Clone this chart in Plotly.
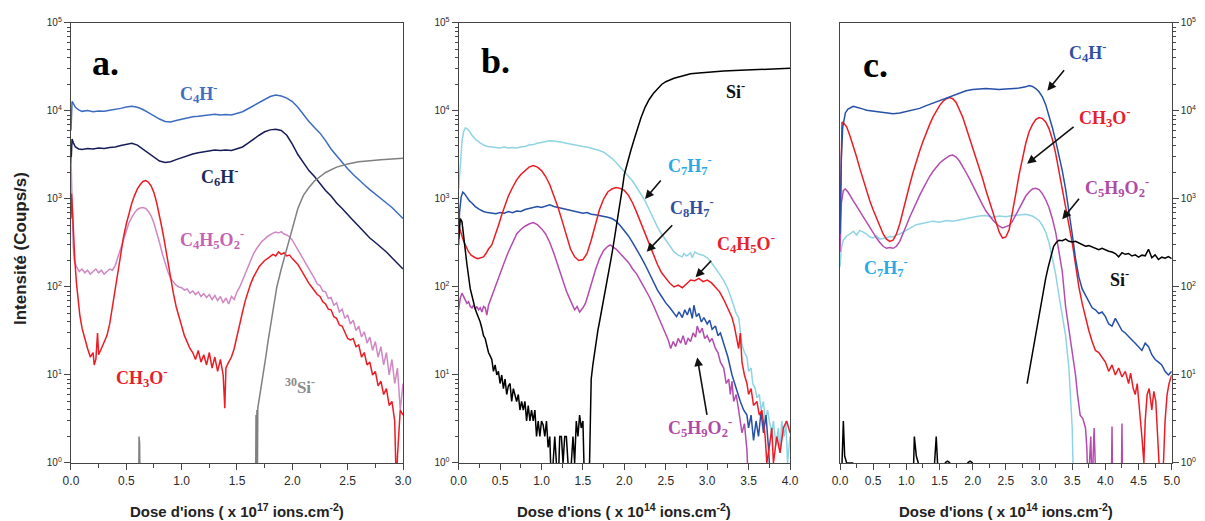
import plotly.graph_objects as go

# ======================= DATA =======================
# ---- panel a : dose x 1e17 ions/cm2 ----
a_x_smooth = [0.0, 0.01, 0.02, 0.04, 0.07, 0.1, 0.15, 0.2, 0.25, 0.3, 0.35, 0.4, 0.45, 0.5, 0.55, 0.6,
              0.65, 0.7, 0.75, 0.8, 0.85, 0.9, 0.95, 1.0, 1.05, 1.1, 1.15, 1.2, 1.25, 1.3, 1.35, 1.4,
              1.45, 1.5, 1.55, 1.6, 1.65, 1.7, 1.75, 1.8, 1.85, 1.9, 1.95, 2.0, 2.05, 2.1, 2.15, 2.2,
              2.25, 2.3, 2.35, 2.4, 2.45, 2.5, 2.55, 2.6, 2.65, 2.7, 2.75, 2.8, 2.85, 2.9, 2.95, 3.0]
a_C4H = [6000, 12800, 12300, 11000, 10300, 9900, 10100, 9800, 10000, 9900, 10200, 10400, 10700, 11100,
         11300, 11000, 10400, 9600, 8800, 8100, 7600, 7500, 7800, 8100, 8300, 8600, 8700, 8900, 9100,
         9200, 9000, 9100, 9000, 9300, 9800, 10600, 11500, 12600, 13600, 14600, 15200, 14800, 14000,
         12800, 11000, 9000, 7600, 6500, 5600, 4600, 3700, 3100, 2600, 2200, 1900, 1650, 1450, 1280,
         1130, 1000, 900, 800, 700, 600]
a_C6H = [2500, 4800, 4400, 3900, 3700, 3650, 3750, 3700, 3800, 3750, 3850, 3900, 4050, 4200, 4300, 4100,
         3700, 3300, 2950, 2700, 2600, 2650, 2800, 2950, 3100, 3250, 3350, 3450, 3500, 3600, 3550, 3600,
         3550, 3700, 3900, 4300, 4800, 5300, 5800, 6100, 6200, 6000, 5300, 4200, 3200, 2600, 2100, 1800,
         1500, 1250, 1080, 900, 780, 660, 570, 490, 420, 360, 320, 285, 250, 215, 185, 160]

a_C4H5O2_x = [0.0, 0.005, 0.01, 0.02, 0.03, 0.04, 0.05, 0.075, 0.1, 0.125, 0.15, 0.175, 0.2, 0.225, 0.25,
              0.275, 0.3, 0.325, 0.35, 0.375, 0.4, 0.425, 0.45, 0.475, 0.5, 0.525, 0.55, 0.575, 0.6, 0.625,
              0.65, 0.675, 0.7, 0.725, 0.75, 0.775, 0.8, 0.825, 0.85, 0.875, 0.9, 0.925, 0.95, 0.975, 1.0,
              1.025, 1.05, 1.075, 1.1, 1.125, 1.15, 1.175, 1.2, 1.225, 1.25, 1.275, 1.3, 1.325, 1.35, 1.375,
              1.4, 1.425, 1.45, 1.475, 1.5, 1.525, 1.55, 1.575, 1.6, 1.625, 1.65, 1.675, 1.7, 1.725, 1.75,
              1.775, 1.8, 1.825, 1.85, 1.875, 1.9, 1.925, 1.95, 1.975, 2.0, 2.025, 2.05, 2.075, 2.1, 2.125,
              2.15, 2.175, 2.2, 2.225, 2.25, 2.275, 2.3, 2.325, 2.35, 2.375, 2.4, 2.425, 2.45, 2.475, 2.5,
              2.525, 2.55, 2.575, 2.6, 2.625, 2.65, 2.675, 2.7, 2.725, 2.75, 2.775, 2.8, 2.825, 2.85, 2.875,
              2.9, 2.925, 2.95, 2.975, 3.0]
a_C4H5O2 = [3000, 1500, 600, 300, 200, 185, 170, 150, 160, 145, 155, 140, 150, 160, 145, 155, 140, 150,
            160, 155, 175, 220, 280, 350, 450, 540, 620, 700, 760, 790, 800, 780, 720, 640, 530, 420, 320,
            240, 185, 150, 125, 115, 105, 100, 98, 92, 95, 85, 90, 82, 88, 78, 84, 76, 82, 72, 80, 70, 78,
            66, 75, 64, 78, 72, 88, 100, 120, 145, 175, 205, 240, 270, 300, 330, 350, 375, 390, 410, 420,
            410, 425, 400, 390, 370, 340, 300, 265, 240, 210, 180, 160, 140, 125, 108, 104, 90, 88, 74, 76,
            62, 66, 52, 56, 44, 48, 38, 42, 32, 36, 27, 31, 23, 27, 19, 24, 16, 21, 13, 18, 10, 15, 8, 12,
            4, 8]

a_CH3O_x = [0.0, 0.005, 0.015, 0.025, 0.035, 0.05, 0.065, 0.08, 0.1, 0.125, 0.15, 0.175, 0.2, 0.21, 0.225,
            0.24, 0.25, 0.275, 0.3, 0.325, 0.35, 0.375, 0.4, 0.425, 0.45, 0.475, 0.5, 0.525, 0.55, 0.575,
            0.6, 0.625, 0.65, 0.675, 0.7, 0.725, 0.75, 0.775, 0.8, 0.825, 0.85, 0.875, 0.9, 0.925, 0.95,
            0.975, 1.0, 1.025, 1.05, 1.075, 1.1, 1.125, 1.15, 1.175, 1.2, 1.225, 1.25, 1.275, 1.3, 1.325,
            1.35, 1.375, 1.39, 1.4, 1.425, 1.45, 1.475, 1.5, 1.525, 1.55, 1.575, 1.6, 1.625, 1.65, 1.675,
            1.7, 1.725, 1.75, 1.775, 1.8, 1.825, 1.85, 1.875, 1.9, 1.925, 1.95, 1.975, 2.0, 2.025, 2.05,
            2.075, 2.1, 2.125, 2.15, 2.175, 2.2, 2.225, 2.25, 2.275, 2.3, 2.325, 2.35, 2.375, 2.4, 2.425,
            2.45, 2.475, 2.5, 2.525, 2.55, 2.575, 2.6, 2.625, 2.65, 2.675, 2.7, 2.725, 2.75, 2.775, 2.8,
            2.825, 2.85, 2.875, 2.9, 2.925, 2.94, 2.95, 2.975, 3.0]
a_CH3O = [600, 1150, 700, 330, 200, 110, 70, 48, 34, 25, 20, 16, 18, 13, 15, 30, 17, 20, 24, 28, 38, 60,
          100, 160, 250, 370, 520, 700, 900, 1100, 1300, 1450, 1580, 1620, 1550, 1400, 1180, 900, 650, 450,
          300, 190, 120, 85, 60, 45, 36, 28, 24, 20, 18, 15, 19, 14, 17, 13, 18, 12, 16, 11, 15, 10, 4.2,
          12, 14, 16, 20, 28, 38, 52, 70, 90, 110, 130, 150, 170, 185, 200, 210, 220, 235, 225, 250, 235,
          245, 225, 230, 210, 195, 180, 160, 140, 125, 110, 100, 90, 82, 78, 68, 64, 56, 55, 46, 44, 37,
          36, 30, 26, 25, 26, 21, 22, 16, 18, 13, 14, 10, 11, 7.5, 8.5, 6, 7, 4.5, 5, 3, 0.5, 1.2, 4, 3.5]

a_Si30_x = [0.6, 0.612, 0.615, 0.62, 0.625, None, 1.668, 1.672, 1.676, 1.68, 1.684, 1.688, 1.692, 1.7,
            1.72, 1.74, 1.76, 1.78, 1.8, 1.83, 1.86, 1.9, 1.95, 2.0, 2.05, 2.1, 2.15, 2.2, 2.3, 2.4, 2.5,
            2.6, 2.7, 2.8, 2.9, 3.0]
a_Si30 = [0.5, 0.5, 2.0, 1.7, 0.5, None, 0.5, 3.5, 0.5, 4, 0.5, 4.2, 4.5, 5.5, 8, 11, 16, 24, 35, 60, 100,
          160, 270, 470, 780, 1100, 1350, 1600, 2000, 2300, 2500, 2650, 2750, 2800, 2850, 2900]

# ---- panel b : dose x 1e14 ions/cm2 ----
b_Si_x = [0.0, 0.02, 0.04, 0.06, 0.08, 0.1, 0.12, 0.14, 0.16, 0.18, 0.2, 0.22, 0.24, 0.26, 0.28, 0.3,
          0.32, 0.34, 0.36, 0.38, 0.4, 0.42, 0.44, 0.46, 0.48, 0.5, 0.52, 0.54, 0.56, 0.58, 0.6, 0.62,
          0.64, 0.66, 0.68, 0.7, 0.72, 0.74, 0.76, 0.78, 0.8, 0.82, 0.84, 0.86, 0.88, 0.9, 0.92, 0.94,
          0.96, 0.98, 1.0, 1.02, 1.04, 1.06, 1.08, 1.1, 1.12, 1.14, 1.16, 1.18, 1.2, 1.22, 1.24, 1.26,
          1.28, 1.3, 1.32, 1.34, 1.36, 1.38, 1.4, 1.42, 1.44, 1.46, 1.48, 1.5, 1.52, 1.56, 1.58, 1.6,
          1.62, 1.64, 1.66, 1.68, 1.7, 1.72, 1.74, 1.76, 1.78, 1.8, 1.82, 1.84, 1.86, 1.88, 1.9, 1.92,
          1.94, 1.96, 1.98, 2.0, 2.04, 2.08, 2.12, 2.16, 2.2, 2.25, 2.3, 2.35, 2.4, 2.45, 2.5, 2.6, 2.7,
          2.8, 2.9, 3.0, 3.2, 3.4, 3.6, 3.8, 4.0]
b_Si = [350, 600, 550, 400, 260, 180, 125, 95, 80, 65, 56, 50, 45, 40, 34, 28, 26, 22, 18, 16.5, 15, 11,
        13, 10, 11, 8, 10, 7, 9, 6, 7.5, 8, 5, 7, 6, 5, 6, 4, 5, 4, 5, 3, 4.5, 3, 4, 3, 4, 2, 3, 2, 3, 2.7,
        2, 3, 1.5, 2, 0.5, 1, 2, 1, 0.5, 2, 2, 1, 2, 2, 1, 0.5, 1, 2, 1, 3, 2, 3.5, 2.5, 3, 0.5, 0.5, 1,
        9, 13, 18, 25, 32, 40, 50, 62, 78, 100, 130, 165, 210, 270, 350, 450, 600, 800, 1050, 1400, 1900,
        2700, 3600, 4800, 6400, 8300, 11000, 13500, 15800, 18000, 20000, 21500, 23500, 25000, 26500,
        27000, 27500, 28500, 29000, 29500, 29800, 30500]

b_C7H7_x = [0.0, 0.02, 0.04, 0.06, 0.08, 0.1, 0.13, 0.16, 0.2, 0.25, 0.3, 0.35, 0.4, 0.45, 0.5, 0.55, 0.6,
            0.65, 0.7, 0.75, 0.8, 0.85, 0.9, 0.95, 1.0, 1.05, 1.1, 1.15, 1.2, 1.25, 1.3, 1.35, 1.4, 1.45,
            1.5, 1.55, 1.6, 1.65, 1.7, 1.75, 1.8, 1.85, 1.9, 1.95, 2.0, 2.05, 2.1, 2.15, 2.2, 2.25, 2.3,
            2.35, 2.4, 2.45, 2.5, 2.55, 2.6, 2.65, 2.7, 2.72, 2.75, 2.8, 2.82, 2.85, 2.9, 2.95, 3.0, 3.05,
            3.1, 3.15, 3.2, 3.25, 3.3, 3.35, 3.38, 3.4, 3.42, 3.45, 3.48, 3.5, 3.53, 3.55, 3.58, 3.6, 3.63,
            3.65, 3.68, 3.7, 3.73, 3.75, 3.78, 3.8, 3.83, 3.86, 3.88, 3.9, 3.93, 3.95, 3.97, 4.0]
b_C7H7 = [1300, 2500, 4500, 5800, 6400, 6300, 5900, 5300, 4800, 4400, 4100, 3950, 3900, 3850, 3800, 3900,
          3800, 3850, 3800, 3900, 3950, 4100, 4150, 4300, 4400, 4500, 4600, 4550, 4500, 4400, 4300, 4200,
          4100, 4000, 3950, 3900, 3800, 3700, 3550, 3400, 3150, 2900, 2600, 2300, 2000, 1780, 1600, 1350,
          1150, 950, 760, 600, 480, 400, 340, 290, 250, 230, 220, 240, 225, 245, 215, 250, 235, 230, 215,
          190, 165, 140, 118, 95, 70, 50, 45, 30, 22, 18, 16, 11, 12, 8, 7, 5.5, 6, 4, 5, 3, 4, 3, 2.2, 3,
          1.6, 2.5, 1.3, 3, 2, 3, 1, 2]

b_C8H7_x = [0.0, 0.01, 0.03, 0.05, 0.07, 0.1, 0.13, 0.16, 0.2, 0.25, 0.3, 0.35, 0.4, 0.45, 0.5, 0.55, 0.6,
            0.65, 0.7, 0.75, 0.8, 0.85, 0.9, 0.95, 1.0, 1.05, 1.1, 1.15, 1.2, 1.25, 1.3, 1.35, 1.4, 1.45,
            1.5, 1.55, 1.6, 1.65, 1.7, 1.75, 1.8, 1.85, 1.9, 1.95, 2.0, 2.05, 2.1, 2.15, 2.2, 2.25, 2.3,
            2.35, 2.4, 2.45, 2.5, 2.55, 2.6, 2.63, 2.66, 2.7, 2.73, 2.76, 2.79, 2.82, 2.84, 2.87, 2.9, 2.93,
            2.96, 3.0, 3.03, 3.06, 3.1, 3.13, 3.16, 3.2, 3.25, 3.3, 3.35, 3.4, 3.44, 3.48, 3.5, 3.53, 3.56,
            3.59, 3.62, 3.65, 3.68, 3.71, 3.74, 3.77]
b_C8H7 = [300, 700, 1050, 1200, 1150, 1050, 950, 900, 820, 760, 720, 700, 690, 680, 700, 690, 720, 700,
          730, 720, 760, 780, 800, 820, 800, 830, 860, 820, 800, 780, 760, 740, 720, 700, 690, 700, 670,
          660, 650, 640, 620, 600, 560, 500, 440, 380, 320, 270, 220, 180, 145, 115, 92, 78, 66, 58, 50,
          46, 52, 45, 55, 48, 58, 44, 62, 46, 50, 40, 45, 38, 42, 33, 36, 28, 30, 22, 16, 10, 7, 5, 4, 3.5,
          2.5, 3.5, 1.8, 3, 2, 3.8, 2.2, 3.5, 1.5, 0.5]

b_C4H5O_x = [0.0, 0.02, 0.04, 0.06, 0.08, 0.1, 0.12, 0.15, 0.18, 0.2, 0.23, 0.26, 0.3, 0.33, 0.36, 0.4,
             0.44, 0.48, 0.52, 0.56, 0.6, 0.65, 0.7, 0.75, 0.8, 0.85, 0.9, 0.95, 1.0, 1.05, 1.1, 1.15, 1.2,
             1.25, 1.3, 1.35, 1.4, 1.45, 1.5, 1.55, 1.6, 1.65, 1.7, 1.75, 1.8, 1.85, 1.9, 1.95, 2.0, 2.05,
             2.1, 2.15, 2.2, 2.25, 2.3, 2.35, 2.4, 2.45, 2.5, 2.55, 2.6, 2.65, 2.7, 2.75, 2.8, 2.85, 2.9,
             2.95, 3.0, 3.05, 3.1, 3.15, 3.2, 3.25, 3.3, 3.33, 3.36, 3.38, 3.4, 3.42, 3.45, 3.48, 3.5, 3.53,
             3.56, 3.6, 3.63, 3.66, 3.7, 3.72, 3.75, 3.78, 3.8, 3.84, 3.88, 3.92, 3.96, 4.0]
b_C4H5O = [500, 420, 380, 330, 300, 270, 250, 230, 220, 215, 210, 215, 220, 240, 270, 300, 380, 500, 660,
           850, 1080, 1350, 1650, 1900, 2100, 2300, 2400, 2300, 2100, 1800, 1450, 1100, 800, 560, 380, 270,
           220, 200, 205, 240, 340, 520, 760, 1000, 1200, 1300, 1350, 1320, 1250, 1100, 900, 700, 530, 400,
           300, 230, 180, 145, 125, 110, 100, 105, 98, 110, 120, 118, 125, 115, 120, 112, 100, 88, 72, 58,
           45, 35, 25, 20, 30, 14, 10, 8, 6, 7, 4.5, 5, 3.5, 4, 2, 1, 1.5, 2.5, 1, 2, 1.3, 2.5, 3, 2.2]

b_C5H9O2_x = [0.0, 0.02, 0.04, 0.06, 0.08, 0.1, 0.12, 0.14, 0.16, 0.18, 0.2, 0.22, 0.24, 0.26, 0.28, 0.3,
              0.32, 0.34, 0.36, 0.38, 0.4, 0.43, 0.46, 0.5, 0.55, 0.6, 0.65, 0.7, 0.75, 0.8, 0.85, 0.9,
              0.95, 1.0, 1.05, 1.1, 1.15, 1.2, 1.25, 1.3, 1.35, 1.38, 1.4, 1.43, 1.46, 1.5, 1.53, 1.56, 1.6,
              1.65, 1.7, 1.75, 1.8, 1.83, 1.86, 1.9, 1.95, 2.0, 2.05, 2.1, 2.15, 2.2, 2.25, 2.3, 2.35, 2.4,
              2.45, 2.5, 2.53, 2.56, 2.59, 2.62, 2.65, 2.68, 2.71, 2.74, 2.77, 2.8, 2.83, 2.86, 2.88, 2.91,
              2.94, 2.97, 3.0, 3.03, 3.06, 3.1, 3.13, 3.16, 3.2, 3.23, 3.26, 3.28, 3.3, 3.32, 3.35, 3.38,
              3.42, 3.45, 3.48, 3.5]
b_C5H9O2 = [55, 75, 85, 78, 70, 65, 68, 60, 58, 62, 56, 60, 55, 58, 52, 60, 58, 48, 62, 70, 80, 95, 115,
            140, 190, 250, 320, 400, 450, 490, 520, 540, 510, 460, 400, 320, 240, 175, 125, 90, 70, 62, 55,
            60, 52, 58, 65, 80, 110, 155, 210, 260, 290, 300, 285, 270, 240, 215, 190, 160, 140, 115, 95,
            78, 62, 48, 38, 30, 25, 20, 24, 21, 26, 23, 28, 22, 26, 24, 30, 27, 36, 30, 34, 26, 28, 24, 26,
            20, 18, 14, 12, 8, 9, 6, 8.5, 5, 6, 4, 2.2, 2.8, 1.4, 0.5]

# ---- panel c : dose x 1e14 ions/cm2 ----
c_C4H_x = [0.0, 0.02, 0.04, 0.08, 0.12, 0.16, 0.2, 0.25, 0.3, 0.35, 0.4, 0.5, 0.6, 0.7, 0.8, 0.9, 1.0,
           1.1, 1.2, 1.3, 1.4, 1.5, 1.6, 1.7, 1.8, 1.9, 2.0, 2.1, 2.2, 2.3, 2.4, 2.5, 2.6, 2.7, 2.8, 2.85,
           2.9, 2.95, 3.0, 3.05, 3.1, 3.15, 3.2, 3.25, 3.3, 3.35, 3.4, 3.45, 3.5, 3.55, 3.6, 3.65, 3.7,
           3.75, 3.8, 3.85, 3.9, 3.95, 4.0, 4.05, 4.1, 4.15, 4.2, 4.25, 4.3, 4.35, 4.4, 4.45, 4.5, 4.55,
           4.6, 4.65, 4.7, 4.75, 4.8, 4.85, 4.9, 4.95, 5.0]
c_C4H = [400, 3000, 6500, 9500, 10500, 11000, 11300, 11000, 10800, 10500, 10200, 10000, 9800, 9600, 9300,
         9500, 9900, 10300, 10700, 11500, 12300, 13000, 14000, 15000, 16000, 17000, 17500, 17800, 18000,
         17800, 17500, 17800, 18000, 18200, 18800, 19500, 19000, 18000, 16500, 14500, 11800, 9000, 6500,
         4600, 3200, 2100, 1300, 750, 400, 210, 130, 95, 80, 70, 58, 55, 50, 52, 46, 38, 36, 44, 38, 32,
         30, 27, 25, 23, 21, 19, 23, 21, 17, 15, 14, 13, 11, 10, 11]

c_CH3O_x = [0.0, 0.015, 0.03, 0.06, 0.1, 0.15, 0.2, 0.25, 0.3, 0.35, 0.4, 0.45, 0.5, 0.55, 0.6, 0.65, 0.7,
            0.75, 0.8, 0.85, 0.9, 0.95, 1.0, 1.05, 1.1, 1.15, 1.2, 1.25, 1.3, 1.35, 1.4, 1.45, 1.5, 1.55,
            1.6, 1.65, 1.7, 1.75, 1.8, 1.85, 1.9, 1.95, 2.0, 2.05, 2.1, 2.15, 2.2, 2.25, 2.3, 2.35, 2.4,
            2.45, 2.5, 2.55, 2.6, 2.65, 2.7, 2.75, 2.8, 2.85, 2.9, 2.95, 3.0, 3.05, 3.1, 3.15, 3.2, 3.25,
            3.3, 3.35, 3.4, 3.45, 3.5, 3.55, 3.6, 3.65, 3.7, 3.75, 3.8, 3.85, 3.9, 3.95, 4.0, 4.05, 4.1,
            4.15, 4.2, 4.25, 4.3, 4.35, 4.38, 4.42, 4.45, 4.48, 4.52, 4.55, 4.58, 4.6, 4.63, 4.66, 4.7,
            4.73, 4.76, 4.8, 4.83, 4.86, 4.9, 4.93, 4.96, 5.0]
c_CH3O = [500, 4000, 7500, 7200, 6600, 5200, 4000, 3000, 2200, 1650, 1250, 950, 750, 600, 480, 400, 350,
          330, 340, 400, 520, 750, 1050, 1450, 2000, 2700, 3500, 4500, 5700, 7000, 8500, 10000, 11500,
          12800, 13800, 14200, 13800, 12500, 10500, 8500, 6500, 5000, 3800, 2900, 2200, 1700, 1250, 950,
          720, 540, 420, 360, 370, 450, 700, 1150, 1900, 3000, 4300, 5800, 7000, 8000, 8400, 8200, 7500,
          6300, 4800, 3300, 2100, 1300, 850, 520, 320, 180, 100, 65, 45, 32, 24, 19, 18, 16, 14, 11, 13,
          10, 12, 9.5, 11, 8, 10.5, 7, 6, 8, 4, 2, 1, 3, 6, 7, 4, 6.5, 5, 1.5, 0.5, 0.5, 3, 6, 8, 10]

c_C5H9O2_x = [0.0, 0.02, 0.05, 0.08, 0.12, 0.16, 0.2, 0.25, 0.3, 0.35, 0.4, 0.45, 0.5, 0.55, 0.6, 0.65,
              0.7, 0.75, 0.8, 0.85, 0.9, 0.95, 1.0, 1.05, 1.1, 1.15, 1.2, 1.25, 1.3, 1.35, 1.4, 1.45, 1.5,
              1.55, 1.6, 1.65, 1.7, 1.75, 1.8, 1.85, 1.9, 1.95, 2.0, 2.05, 2.1, 2.15, 2.2, 2.25, 2.3, 2.35,
              2.4, 2.45, 2.5, 2.55, 2.6, 2.65, 2.7, 2.75, 2.8, 2.85, 2.9, 2.95, 3.0, 3.05, 3.1, 3.15, 3.2,
              3.25, 3.3, 3.35, 3.4, 3.45, 3.5, 3.55, 3.58, 3.62, 3.66, 3.7, 3.72, 3.74, 3.78, 3.8, 3.83,
              3.86, 3.9, None, 4.09, 4.1, 4.11, None, 4.24, 4.25, 4.26]
c_C5H9O2 = [250, 900, 1250, 1300, 1200, 1050, 950, 830, 720, 620, 540, 470, 410, 360, 320, 290, 275, 280,
            275, 290, 330, 400, 500, 620, 760, 920, 1100, 1300, 1550, 1800, 2050, 2300, 2550, 2750, 2950,
            3100, 3150, 3000, 2700, 2350, 2000, 1700, 1420, 1200, 1000, 850, 730, 640, 580, 530, 490, 470,
            480, 500, 560, 660, 780, 920, 1080, 1200, 1300, 1320, 1280, 1150, 980, 800, 600, 420, 260, 150,
            60, 33, 18, 10, 6, 3.5, 3.2, 2.5, 1.5, 0.5, 2, 0.5, 2.5, 0.5, 0.5, None, 0.5, 2.6, 0.5, None,
            0.5, 2.8, 0.5]

c_C7H7_x = [0.0, 0.02, 0.05, 0.1, 0.15, 0.2, 0.25, 0.3, 0.35, 0.4, 0.45, 0.5, 0.55, 0.6, 0.65, 0.7, 0.75,
            0.8, 0.85, 0.9, 0.95, 1.0, 1.05, 1.1, 1.15, 1.2, 1.3, 1.4, 1.5, 1.6, 1.7, 1.8, 1.9, 2.0, 2.1,
            2.2, 2.3, 2.4, 2.5, 2.6, 2.7, 2.8, 2.9, 2.95, 3.0, 3.05, 3.1, 3.15, 3.2, 3.25, 3.3, 3.35, 3.4,
            3.45, 3.48, 3.5, 3.52]
c_C7H7 = [170, 280, 340, 380, 400, 430, 390, 440, 420, 400, 370, 360, 380, 350, 355, 365, 375, 370, 390,
          400, 420, 450, 470, 490, 510, 520, 540, 560, 545, 570, 560, 580, 600, 620, 640, 650, 620, 640,
          630, 650, 660, 670, 640, 610, 570, 500, 420, 320, 220, 140, 80, 45, 28, 12, 5, 2.5, 0.5]

c_Si_x = [0.0, 0.03, 0.05, 0.07, 0.1, 0.15, 0.2, None, 1.1, 1.12, 1.15, 1.18, 1.2, None, 1.4, 1.43, 1.45,
          1.47, 1.5, None, 1.58, 1.62, 1.66, None, 1.92, 1.96, 2.0, None, 2.82, 2.86, 2.9, 2.94, 2.98,
          3.02, 3.06, 3.1, 3.14, 3.18, 3.22, 3.26, 3.3, 3.35, 3.4, 3.45, 3.5, 3.55, 3.6, 3.65, 3.7, 3.75,
          3.8, 3.85, 3.9, 3.95, 4.0, 4.05, 4.1, 4.15, 4.2, 4.25, 4.3, 4.35, 4.4, 4.45, 4.5, 4.55, 4.6,
          4.65, 4.7, 4.75, 4.8, 4.85, 4.9, 4.95, 5.0]
c_Si = [0.5, 1, 3, 1.2, 1, 1, 1, None, 0.5, 2, 1.2, 1, 0.5, None, 0.5, 1, 2, 1, 0.5, None, 1, 1.05, 1,
        None, 1, 1.05, 1, None, 8, 12, 17, 25, 38, 60, 90, 125, 170, 220, 290, 320, 340, 335, 350, 330,
        325, 330, 315, 305, 290, 295, 285, 275, 265, 275, 262, 255, 250, 240, 220, 245, 235, 240, 225,
        232, 218, 230, 226, 268, 215, 232, 205, 218, 212, 222, 210]

# axis ticks
y_tickvals = [1, 10, 100, 1000, 10000, 100000]
y_ticktext = ["10<sup>0</sup>", "10<sup>1</sup>", "10<sup>2</sup>", "10<sup>3</sup>", "10<sup>4</sup>",
              "10<sup>5</sup>"]
y_minor = [m * 10 ** e for e in range(5) for m in range(2, 10)]

# ======================= FIGURE =======================
fig = go.Figure()


def line(x, y, color, xa, ya, w=1.5):
    fig.add_trace(go.Scatter(x=x, y=y, mode="lines", line=dict(color=color, width=w),
                             xaxis=xa, yaxis=ya, showlegend=False, hoverinfo="skip",
                             connectgaps=False))


BLUE_A = "#3b6cc0"
NAVY = "#161c58"
PINK = "#d088c4"
RED = "#ec1c24"
GRAY = "#808080"
CYAN = "#8fd4e4"
BLUE = "#2550a8"
MAG = "#b44caf"
BLACK = "#000000"

# panel a
line(a_x_smooth, a_C4H, BLUE_A, "x", "y")
line(a_x_smooth, a_C6H, NAVY, "x", "y")
line(a_C4H5O2_x, a_C4H5O2, PINK, "x", "y")
line(a_CH3O_x, a_CH3O, RED, "x", "y")
line(a_Si30_x, a_Si30, GRAY, "x", "y")
# panel b
line(b_C7H7_x, b_C7H7, CYAN, "x2", "y2")
line(b_C8H7_x, b_C8H7, BLUE, "x2", "y2")
line(b_C4H5O_x, b_C4H5O, RED, "x2", "y2")
line(b_C5H9O2_x, b_C5H9O2, MAG, "x2", "y2")
line(b_Si_x, b_Si, BLACK, "x2", "y2")
# panel c
line(c_C7H7_x, c_C7H7, CYAN, "x3", "y3")
line(c_C5H9O2_x, c_C5H9O2, MAG, "x3", "y3")
line(c_CH3O_x, c_CH3O, RED, "x3", "y3")
line(c_C4H_x, c_C4H, BLUE, "x3", "y3")
line(c_Si_x, c_Si, BLACK, "x3", "y3")

FRAME = "#454545"
TICKFONT = dict(family="Liberation Sans, Arial, sans-serif", size=12, color="#2a2a2a")
# the page body adds an 8px margin; the figure is sized so it fills the rest of the window
Y_DOM = [0.1131, 0.9708]


def xaxis(dom, rng, anchor):
    return dict(domain=dom, range=rng, anchor=anchor, showgrid=False, zeroline=False,
                showline=True, linecolor=FRAME, linewidth=1.3, mirror=True,
                ticks="outside", ticklen=6, tickwidth=1.2, tickcolor=FRAME,
                tickmode="linear", tick0=0, dtick=0.5, tickformat=".1f", tickfont=TICKFONT,
                minor=dict(ticks="outside", ticklen=4, tickwidth=1, tickcolor=FRAME, dtick=0.25,
                           showgrid=False),
                automargin=False, fixedrange=True)


def yaxis(anchor, side="left", labels=True):
    return dict(domain=Y_DOM, type="log", range=[0, 5], anchor=anchor, side=side,
                showgrid=False, zeroline=False, showline=True, linecolor=FRAME, linewidth=1.3,
                mirror=True, ticks="outside", ticklen=6, tickwidth=1.2, tickcolor=FRAME,
                tickmode="array", tickvals=y_tickvals, ticktext=y_ticktext, showticklabels=labels,
                tickfont=dict(family="Liberation Sans, Arial, sans-serif", size=10, color="#2a2a2a"),
                minor=dict(tickmode="array", tickvals=y_minor, ticks="outside", ticklen=3,
                           tickwidth=1, tickcolor=FRAME, showgrid=False),
                automargin=False, fixedrange=True)


fig.update_layout(
    width=1197, height=513,
    margin=dict(l=0, r=0, t=0, b=0),
    paper_bgcolor="white", plot_bgcolor="white",
    template="none",
    showlegend=False,
    xaxis=xaxis([0.0526, 0.3300], [0, 3], "y"),
    xaxis2=xaxis([0.3765, 0.6533], [0, 4], "y2"),
    xaxis3=xaxis([0.6951, 0.9722], [0, 5], "y3"),
    yaxis=yaxis("x"),
    yaxis2=yaxis("x2"),
    yaxis3=yaxis("x3", side="right"),
)

SERIF = "Liberation Serif, Times New Roman, serif"
ann = []


def label(text, xr, yr, x, logy, color, size=18):
    ann.append(dict(text="<b>" + text + "</b>", xref=xr, yref=yr, x=x, y=logy, showarrow=False,
                    font=dict(family=SERIF, size=size, color=color), xanchor="center",
                    yanchor="middle"))


def arrow(xr, yr, x, logy, ax, ay):
    ann.append(dict(text="", xref=xr, yref=yr, x=x, y=logy, ax=ax, ay=ay, showarrow=True,
                    arrowhead=2, arrowsize=1.1, arrowwidth=1.6, arrowcolor="#111"))


# panel a labels
label("a.", "x", "y", 0.31, 4.55, "#000", 36)
label("C<sub>4</sub>H<sup>-</sup>", "x", "y", 1.16, 4.2, "#3f6fbf")
label("C<sub>6</sub>H<sup>-</sup>", "x", "y", 1.35, 3.25, "#1c2a5e")
label("C<sub>4</sub>H<sub>5</sub>O<sub>2</sub><sup>-</sup>", "x", "y", 1.27, 2.54, "#c463b3")
label("CH<sub>3</sub>O<sup>-</sup>", "x", "y", 0.64, 0.97, "#e8202a")
label("<sup>30</sup>Si<sup>-</sup>", "x", "y", 2.07, 0.87, "#8a8a8a", 17)
# panel b labels
label("b.", "x2", "y2", 0.45, 4.57, "#000", 36)
label("Si<sup>-</sup>", "x2", "y2", 3.34, 4.23, "#111")
label("C<sub>7</sub>H<sub>7</sub><sup>-</sup>", "x2", "y2", 2.79, 3.38, "#2aaae2")
label("C<sub>8</sub>H<sub>7</sub><sup>-</sup>", "x2", "y2", 2.82, 2.9, "#2f4fa0")
label("C<sub>4</sub>H<sub>5</sub>O<sup>-</sup>", "x2", "y2", 3.47, 2.49, "#e8202a")
label("C<sub>5</sub>H<sub>9</sub>O<sub>2</sub><sup>-</sup>", "x2", "y2", 2.91, 0.4, "#b04aa8")
arrow("x2", "y2", 2.25, 3.0, 17, -20)
arrow("x2", "y2", 2.27, 2.40, 27, -28)
arrow("x2", "y2", 2.86, 2.11, 17, -18)
arrow("x2", "y2", 2.88, 1.2, 10, 59)
# panel c labels
label("c.", "x3", "y3", 0.53, 4.52, "#000", 36)
label("C<sub>4</sub>H<sup>-</sup>", "x3", "y3", 3.74, 4.66, "#2f4fa0")
label("CH<sub>3</sub>O<sup>-</sup>", "x3", "y3", 3.99, 3.93, "#e8202a")
label("C<sub>5</sub>H<sub>9</sub>O<sub>2</sub><sup>-</sup>", "x3", "y3", 4.18, 3.13, "#b04aa8")
label("C<sub>7</sub>H<sub>7</sub><sup>-</sup>", "x3", "y3", 0.69, 2.22, "#2aaae2")
label("Si<sup>-</sup>", "x3", "y3", 4.21, 2.1, "#111")
arrow("x3", "y3", 3.125, 4.23, 18, -22)
arrow("x3", "y3", 2.82, 3.40, 48, -38)
arrow("x3", "y3", 3.35, 2.77, 18, -22)

# axis titles
SANS = "Liberation Sans, Arial, sans-serif"
for xc, exp in [(0.1913, "17"), (0.5149, "14"), (0.8336, "14")]:
    ann.append(dict(text="<b>Dose d'ions ( x 10<sup>" + exp + "</sup> ions.cm<sup>-2</sup>)</b>",
                    xref="paper", yref="paper", x=xc, y=0.0195, showarrow=False,
                    xanchor="center", yanchor="middle",
                    font=dict(family=SANS, size=15, color="#222")))
ann.append(dict(text="<b>Intensité (Coups/s)</b>", xref="paper", yref="paper", x=0.0100, y=0.532,
                textangle=-90, showarrow=False, xanchor="center", yanchor="middle",
                font=dict(family=SANS, size=17, color="#222")))

fig.update_layout(annotations=ann)
fig.write_html("out.html")
